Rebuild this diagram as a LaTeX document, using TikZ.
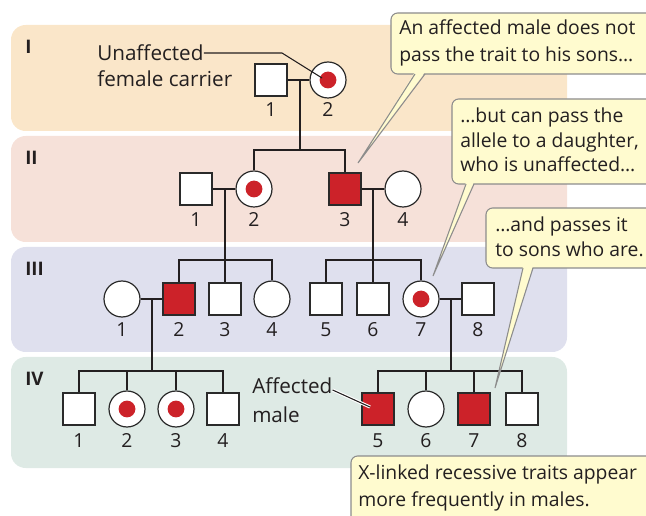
\documentclass[tikz,border=0pt]{standalone}
\usepackage{fontspec}
\setmainfont{Open Sans}
\definecolor{bandI}{HTML}{FAE6C9}
\definecolor{bandII}{HTML}{F6E1D9}
\definecolor{bandIII}{HTML}{DFE0EE}
\definecolor{bandIV}{HTML}{DEEAE5}
\definecolor{affred}{HTML}{CC2229}
\definecolor{txt}{HTML}{231F20}
\definecolor{shapeline}{HTML}{2A2A2A}
\definecolor{calfill}{HTML}{FFFBCF}
\definecolor{calline}{HTML}{8C8C8C}
\begin{document}
\begin{tikzpicture}[x=0.75pt,y=-0.75pt,
  every node/.style={text=txt},
  band/.style={rounded corners=11pt},
  sq/.style={rectangle, draw=shapeline, line width=0.9pt, fill=white, minimum size=24pt, inner sep=0pt},
  aff/.style={sq, fill=affred},
  fem/.style={circle, draw=shapeline, line width=0.9pt, fill=white, minimum size=27pt, inner sep=0pt},
  car/.style={fem, path picture={\fill[affred] (path picture bounding box.center) circle (6.3pt);}},
  rel/.style={line width=1.9pt, draw=txt},
  num/.style={anchor=base, inner sep=0pt, font=\fontsize{14.5}{17}\selectfont},
  gen/.style={anchor=base west, inner sep=0pt, font=\fontsize{14}{17}\selectfont\bfseries},
  txtline/.style={anchor=base west, inner sep=0pt, font=\fontsize{14.5}{17}\selectfont},
  lbline/.style={anchor=base west, inner sep=0pt, font=\fontsize{15.5}{18}\selectfont},
  callout/.style={fill=calfill, draw=calline, line width=0.8pt, rounded corners=5pt},
  leader/.style={draw=txt, line width=0.8pt}
]
\useasboundingbox (0,0) rectangle (646,516);
\clip (0,0) rectangle (646,516);

% generation bands
\fill[bandI,band] (11,25) rectangle (567,131);
\fill[bandII,band] (11,136) rectangle (567,242);
\fill[bandIII,band] (11,247) rectangle (567,352);
\fill[bandIV,band] (11,357) rectangle (567,468);

\node[gen] (gI) at (25,54) {I};
\node[gen] (gII) at (25,165) {II};
\node[gen] (gIII) at (25,276) {III};
\node[gen] (gIV) at (25,386) {IV};

% generation I
\node[sq] (I1) at (271,80) {};
\node[car] (I2) at (328,80) {};
\node[num] (nI1) at (271,117) {1};
\node[num] (nI2) at (328,117) {2};

% generation II
\node[sq] (II1) at (196,189) {};
\node[car] (II2) at (254,189) {};
\node[aff] (II3) at (345,189) {};
\node[fem] (II4) at (403,189) {};
\node[num] (nII1) at (196,227) {1};
\node[num] (nII2) at (254,227) {2};
\node[num] (nII3) at (345,227) {3};
\node[num] (nII4) at (403,227) {4};

% generation III
\node[fem] (III1) at (122,299) {};
\node[aff] (III2) at (179,299) {};
\node[sq] (III3) at (225,299) {};
\node[fem] (III4) at (272,299) {};
\node[sq] (III5) at (326,299) {};
\node[sq] (III6) at (373,299) {};
\node[car] (III7) at (421,299) {};
\node[sq] (III8) at (478,299) {};
\foreach \n/\x in {1/122,2/179,3/225,4/272,5/326,6/373,7/421,8/478}
  \node[num] (nIII\n) at (\x,337) {\n};

% generation IV
\node[sq] (IV1) at (79,409) {};
\node[car] (IV2) at (127,409) {};
\node[car] (IV3) at (176,409) {};
\node[sq] (IV4) at (223,409) {};
\node[aff] (IV5) at (378,409) {};
\node[fem] (IV6) at (426,409) {};
\node[aff] (IV7) at (474,409) {};
\node[sq] (IV8) at (522,409) {};
\foreach \n/\x in {1/79,2/127,3/176,4/223,5/378,6/426,7/474,8/522}
  \node[num] (nIV\n) at (\x,447) {\n};

% relationship lines
\coordinate (m1) at (300,80);  \coordinate (s1) at (300,150);
\coordinate (m2) at (225,189); \coordinate (s2) at (225,260);
\coordinate (m3) at (373,189); \coordinate (s3) at (373,260);
\coordinate (m4) at (152,299); \coordinate (s4) at (152,371);
\coordinate (m5) at (451,299); \coordinate (s5) at (451,371);

\draw[rel] (I1.east) -- (I2.west);
\draw[rel] (m1) -- (s1);
\draw[rel] (II2.north) |- (s1) -| (II3.north);

\draw[rel] (II1.east) -- (II2.west);
\draw[rel] (m2) -- (III3.north);
\draw[rel] (III2.north) |- (s2) -| (III4.north);

\draw[rel] (II3.east) -- (II4.west);
\draw[rel] (m3) -- (III6.north);
\draw[rel] (III5.north) |- (s3) -| (III7.north);

\draw[rel] (III1.east) -- (III2.west);
\draw[rel] (m4) -- (s4);
\draw[rel] (IV1.north) |- (s4) -| (IV4.north);
\draw[rel] (IV2.north) -- (IV2.north |- s4);
\draw[rel] (IV3.north) -- (IV3.north |- s4);

\draw[rel] (III7.east) -- (III8.west);
\draw[rel] (m5) -- (s5);
\draw[rel] (IV5.north) |- (s5) -| (IV8.north);
\draw[rel] (IV6.north) -- (IV6.north |- s5);
\draw[rel] (IV7.north) -- (IV7.north |- s5);

% labels with leaders
\node[lbline] (tUa) at (97,61) {Unaffected};
\node[lbline] (tUb) at (97,87) {female carrier};
\coordinate (lu2) at (282,53);
\coordinate (lu3) at (322,78);
\draw[leader] (tUa.east |- lu2) -- (lu2) -- (lu3);

\node[lbline] (tAa) at (252,394) {Affected};
\node[lbline] (tAb) at (252,422) {male};
\coordinate (la1) at (339,390);
\coordinate (la2) at (370,407);
\draw[white, line width=2.4pt] (tAa.east |- la1) -- (la2);
\draw[leader] (tAa.east |- la1) -- (la2);

% callouts
\coordinate (c1a) at (415,72); \coordinate (c1b) at (425,72); \coordinate (c1t) at (358,163);
\coordinate (c2a) at (466,182); \coordinate (c2b) at (474,182); \coordinate (c2t) at (433,276);
\coordinate (c3a) at (523,266); \coordinate (c3b) at (533,266); \coordinate (c3t) at (495,388);

\draw[callout] (391,13) rectangle (660,74);
\fill[calfill] (c1a) -- (c1t) -- (c1b) -- cycle;
\draw[calline, line width=0.8pt] (c1a |- 0,74) -- (c1t) -- (c1b |- 0,74);
\node[txtline] (c1l1) at (399,35) {An affected male does not};
\node[txtline] (c1l2) at (399,62) {pass the trait to his sons…};

\draw[callout] (452,99) rectangle (660,184);
\fill[calfill] (c2a) -- (c2t) -- (c2b) -- cycle;
\draw[calline, line width=0.8pt] (c2a |- 0,184) -- (c2t) -- (c2b |- 0,184);
\node[txtline] (c2l1) at (460,123) {…but can pass the};
\node[txtline] (c2l2) at (460,148) {allele to a daughter,};
\node[txtline] (c2l3) at (460,172) {who is unaffected…};

\draw[callout] (486,208) rectangle (660,268);
\fill[calfill] (c3a) -- (c3t) -- (c3b) -- cycle;
\draw[calline, line width=0.8pt] (c3a |- 0,268) -- (c3t) -- (c3b |- 0,268);
\node[txtline] (c3l1) at (495,232) {…and passes it};
\node[txtline] (c3l2) at (495,257) {to sons who are.};

\draw[callout] (351,456) rectangle (660,530);
\node[txtline] (c4l1) at (358,479) {X-linked recessive traits appear};
\node[txtline] (c4l2) at (358,506) {more frequently in males.};
\end{tikzpicture}
\end{document}
